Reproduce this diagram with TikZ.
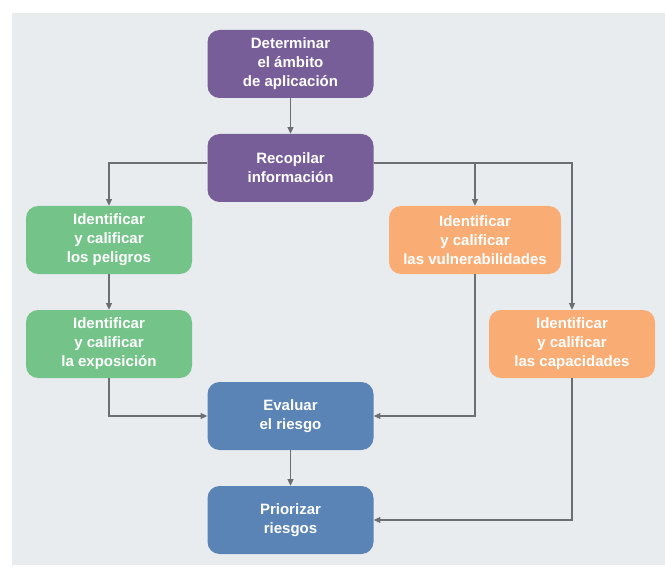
\documentclass[tikz,border=0pt]{standalone}
\usepackage{fontspec}
\setmainfont{Liberation Sans}
\usetikzlibrary{arrows.meta}
\definecolor{bgc}{HTML}{E9ECEF}
\definecolor{purp}{HTML}{785E99}
\definecolor{grn}{HTML}{74C48A}
\definecolor{orng}{HTML}{F9AD74}
\definecolor{blu}{HTML}{5A84B6}
\definecolor{linec}{HTML}{6D6E71}
\tikzset{
  box/.style={rounded corners=9pt, minimum width=124.5pt, minimum height=51pt, inner sep=2pt,
    align=center, text=white, font=\bfseries\fontsize{11.25}{14.25}\selectfont},
  pbox/.style={box, fill=purp},
  gbox/.style={box, fill=grn},
  obox/.style={box, fill=orng},
  bbox/.style={box, fill=blu},
  arr/.style={draw=linec, line width=0.9pt, -{Triangle[length=5pt,width=4.5pt]}},
  ln/.style={draw=linec, line width=0.9pt}
}
\begin{document}
\begin{tikzpicture}[x=0.75pt,y=-0.75pt]
\useasboundingbox (0,0) rectangle (665,567);
\fill[white] (0,0) rectangle (665,567);
\fill[bgc] (12,13) rectangle (665,565);
\node[pbox] (det) at (290.5,64) {Determinar\\el ámbito\\de aplicación};
\node[pbox] (rec) at (290.5,168) {Recopilar\\información};
\node[gbox] (pel) at (109,240) {Identificar\\y calificar\\los peligros};
\node[gbox] (exp) at (109,344) {Identificar\\y calificar\\la exposición};
\node[obox, minimum width=129pt] (vul) at (475,240) {Identificar\\y calificar\\las vulnerabilidades};
\node[obox] (cap) at (572,344) {Identificar\\y calificar\\las capacidades};
\node[bbox] (eva) at (290.5,416) {Evaluar\\el riesgo};
\node[bbox] (pri) at (290.5,520) {Priorizar\\riesgos};
\coordinate (rl) at ([yshift=3.75pt]rec.west);
\coordinate (rr) at ([yshift=3.75pt]rec.east);
\draw[arr] (det) -- (rec);
\draw[arr] (rl) -| (pel.north);
\draw[arr] (rr) -| (cap.north);
\draw[arr] (vul.north |- rr) -- (vul.north);
\draw[arr] (pel) -- (exp);
\draw[arr] (exp.south) |- (eva.west);
\draw[arr] (vul.south) |- (eva.east);
\draw[arr] (cap.south) |- (pri.east);
\draw[arr] (eva) -- (pri);
\end{tikzpicture}
\end{document}
